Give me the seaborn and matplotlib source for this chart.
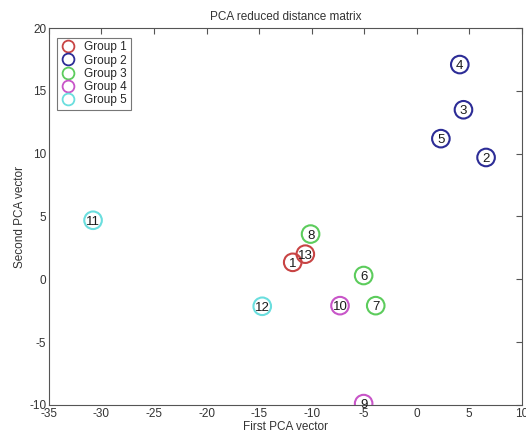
import matplotlib
matplotlib.use("Agg")
import matplotlib.pyplot as plt
import pandas as pd
import seaborn as sns
from matplotlib.lines import Line2D

# values
labels = ["1", "2", "3", "4", "5", "6", "7", "8", "9", "10", "11", "12", "13"]
first_pca = [-11.8, 6.6, 4.45, 4.1, 2.3, -5.05, -3.9, -10.1, -5.05, -7.3, -30.8, -14.7, -10.6]
second_pca = [1.35, 9.7, 13.5, 17.1, 11.2, 0.3, -2.1, 3.6, -9.9, -2.1, 4.7, -2.15, 2.0]
groups = ["Group 1", "Group 2", "Group 2", "Group 2", "Group 2", "Group 3", "Group 3",
          "Group 3", "Group 4", "Group 4", "Group 5", "Group 5", "Group 1"]
group_names = ["Group 1", "Group 2", "Group 3", "Group 4", "Group 5"]
group_colors = ["#c84444", "#2c2c96", "#5ccc5c", "#c855c8", "#6adede"]

df = pd.DataFrame({"x": first_pca, "y": second_pca, "group": groups, "label": labels})
palette = dict(zip(group_names, group_colors))

sns.set_style("white")
plt.rcParams["font.family"] = ["Liberation Sans", "DejaVu Sans"]
plt.rcParams["axes.unicode_minus"] = False

fig = plt.figure(figsize=(5.26, 4.33), dpi=100)
ax = fig.add_axes([0.093, 0.065, 0.899, 0.87])

sns.scatterplot(data=df, x="x", y="y", hue="group", palette=palette,
                s=160, linewidth=1.5, legend=False, ax=ax, zorder=3)
# make the circles hollow, as in the original
coll = ax.collections[0]
coll.set_edgecolors(coll.get_facecolors())
coll.set_facecolors("none")

for _, row in df.iterrows():
    ax.text(row["x"], row["y"], row["label"], ha="center", va="center_baseline",
            fontsize=9.5, color="#1a1a1a", zorder=4)

ax.set_xlim(-35, 10)
ax.set_ylim(-10, 20)
ax.set_xticks(range(-35, 11, 5))
ax.set_yticks(range(-10, 21, 5))
ax.tick_params(direction="in", length=4, labelsize=8.5, top=True, right=True,
               color="#555555", labelcolor="#333333", pad=2)
for sp in ax.spines.values():
    sp.set_color("#555555")
    sp.set_linewidth(0.8)

ax.set_title("PCA reduced distance matrix", fontsize=8.5, color="#333333", pad=6)
ax.set_xlabel("First PCA vector", fontsize=8.5, color="#333333", labelpad=1)
ax.set_ylabel("Second PCA vector", fontsize=8.5, color="#333333", labelpad=2)

handles = [Line2D([], [], marker="o", linestyle="none", markersize=8.5,
                  markerfacecolor="none", markeredgecolor=c, markeredgewidth=1.3)
           for c in group_colors]
leg = ax.legend(handles, group_names, loc="upper left", fontsize=8.5,
                frameon=True, fancybox=False, edgecolor="#555555",
                handletextpad=0.7, borderpad=0.3, labelspacing=0.1,
                handlelength=1.3, bbox_to_anchor=(0.005, 0.99))
leg.get_frame().set_linewidth(0.8)

fig.savefig("out.png", dpi=100)
